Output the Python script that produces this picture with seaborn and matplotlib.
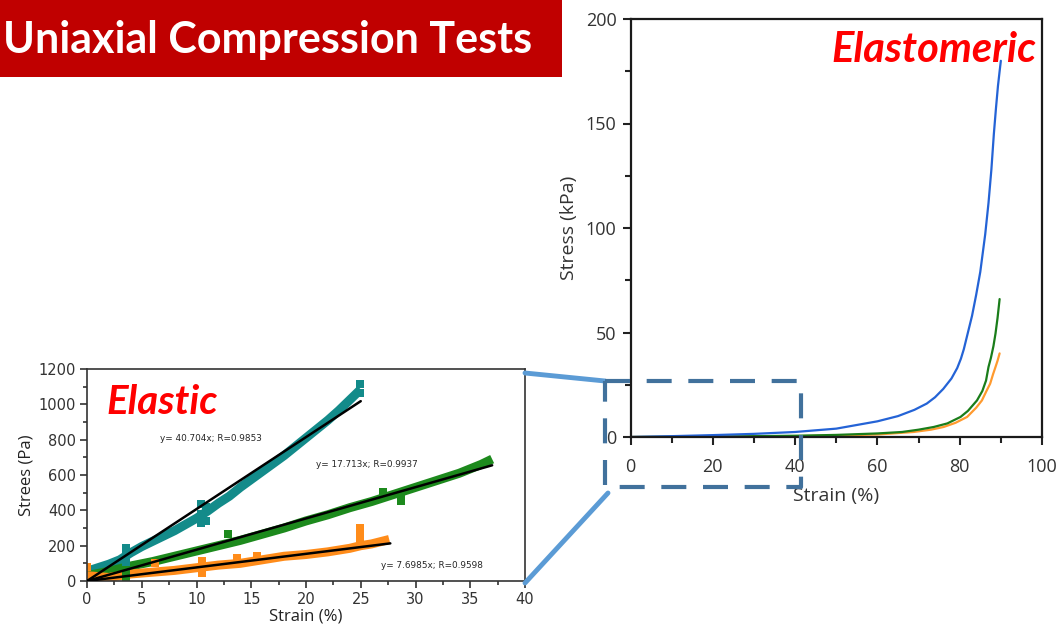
import numpy as np
import pandas as pd
import seaborn as sns
import matplotlib.pyplot as plt
from matplotlib.patches import Rectangle
from matplotlib.lines import Line2D
from matplotlib.ticker import MultipleLocator

sns.set_style("ticks")
plt.rcParams['font.family'] = ['Open Sans', 'DejaVu Sans']

# colours
banner_red = '#c00000'
teal = '#138b8a'
green = '#1d8a1d'
orange = '#ff8c1a'
blue_curve = '#2463d6'
green_curve = '#1a7d1a'
orange_curve = '#ff9a2e'
box_blue = '#41719c'
link_blue = '#5b9bd5'

# === Elastic (small strain) data, Pa ===
teal_strain = [0, 1, 2, 3, 4, 5, 6, 7, 8, 9, 10, 11, 12, 13, 14, 15, 16, 17, 18, 19, 20, 21, 22, 23, 24, 25]
teal_stress = [55, 75, 95, 120, 160, 195, 225, 255, 285, 320, 355, 395, 440, 480, 530, 575,
               620, 665, 710, 760, 810, 860, 910, 965, 1025, 1085]
teal_spike_strain = [3.6, 3.6, 3.6, 10.4, 10.4, 10.4, 10.9, 10.9, 24.9, 24.9]
teal_spike_stress = [110, 150, 185, 330, 380, 435, 340, 420, 1065, 1115]

green_strain = [0, 2, 4, 6, 8, 10, 12, 14, 16, 18, 20, 22, 24, 26, 28, 30, 32, 34, 36, 37]
green_stress = [30, 55, 85, 110, 140, 170, 200, 230, 265, 300, 340, 375, 415, 450, 490, 530, 570, 610, 660, 690]
green_spike_strain = [3.6, 3.6, 12.9, 27.0, 28.7, 28.7]
green_spike_stress = [25, 65, 265, 505, 455, 490]

orange_strain = [0, 2, 4, 6, 8, 10, 12, 14, 16, 18, 20, 22, 24, 25, 26, 27.6]
orange_stress = [30, 20, 40, 50, 60, 75, 90, 100, 120, 140, 150, 165, 185, 200, 210, 235]
orange_spike_strain = [0, 6.2, 10.5, 10.5, 13.7, 15.5, 24.9, 24.9, 24.9]
orange_spike_stress = [80, 100, 45, 115, 130, 140, 230, 270, 300]

fit_end_strain = [25, 37, 27.7]
fit_end_stress = [1018, 655, 213]
fit_labels = ['y= 40.704x; R=0.9853', 'y= 17.713x; R=0.9937', 'y= 7.6985x; R=0.9598']
fit_label_strain = [11.3, 25.6, 31.5]
fit_label_stress = [809, 657, 90]

# === Elastomeric (large strain) data, kPa ===
blue_strain = [0, 10, 20, 30, 40, 50, 60, 65, 69, 72, 74, 76, 78, 79.4, 80.3, 81, 82, 83, 84, 85,
               86.2, 87, 87.7, 88.3, 88.8, 89.3, 89.7, 90]
blue_stress = [0, 0.4, 0.9, 1.5, 2.4, 4.0, 7.5, 10, 13, 16, 19, 23, 28, 33, 37.5, 42, 50, 58, 68, 79,
               97, 112, 128, 145, 157, 168, 175, 180]
green_l_strain = [0, 20, 40, 50, 60, 66, 70, 73.7, 77, 80.2, 82, 84.2, 85.5, 86.4, 87, 87.6, 88.2, 88.7,
                  89.2, 89.7]
green_l_stress = [0, 0.2, 0.6, 1.0, 1.7, 2.4, 3.5, 4.8, 6.5, 9.6, 12.5, 17.5, 22, 27, 33.5, 38, 43.5, 49.5,
                  57, 66]
orange_l_strain = [0, 20, 40, 50, 60, 68.8, 73, 76.1, 79, 81.8, 84, 85.4, 86.5, 87.4, 88.1, 88.7, 89.2, 89.7]
orange_l_stress = [0, 0.1, 0.4, 0.7, 1.2, 2.4, 3.5, 4.8, 6.8, 9.6, 14, 17.5, 22, 25.5, 30, 33.5, 36.5, 40]

W, H = 1056, 627
fig = plt.figure(figsize=(W / 100, H / 100), dpi=100)
fig.patch.set_facecolor('white')

def frac(x0, y_top, x1, y_bot):
    return [x0 / W, 1 - y_bot / H, (x1 - x0) / W, (y_bot - y_top) / H]

# --- title banner ---
fig.patches.append(Rectangle((0, 1 - 77 / H), 562 / W, 77 / H, transform=fig.transFigure,
                             facecolor=banner_red, edgecolor='none', zorder=0))
fig.text(3 / W, 1 - 40 / H, 'Uniaxial Compression Tests', color='white', fontsize=31,
         fontweight='bold', va='center', ha='left', family=['Lato', 'DejaVu Sans'])

# --- left: elastic region ---
ax1 = fig.add_axes(frac(87, 369, 525, 581))
for xs, ys, c in [(teal_strain, teal_stress, teal), (green_strain, green_stress, green),
                  (orange_strain, orange_stress, orange)]:
    sns.lineplot(x=xs, y=ys, ax=ax1, color=c, lw=6.5, solid_capstyle='butt', zorder=2)
for xs, ys, c in [(teal_spike_strain, teal_spike_stress, teal), (green_spike_strain, green_spike_stress, green),
                  (orange_spike_strain, orange_spike_stress, orange)]:
    sns.scatterplot(x=xs, y=ys, ax=ax1, color=c, marker='s', s=30, linewidth=0, zorder=2)
for xe, ye in zip(fit_end_strain, fit_end_stress):
    sns.lineplot(x=[0, xe], y=[0, ye], ax=ax1, color='black', lw=1.8, zorder=3)
for lx, ly, t in zip(fit_label_strain, fit_label_stress, fit_labels):
    ax1.text(lx, ly, t, fontsize=6.4, family='DejaVu Sans', ha='center', va='center', zorder=4)
ax1.text(1.8, 1010, 'Elastic', color='#ff0000', fontsize=29, fontweight='bold', style='italic',
         va='center', ha='left', family=['Lato', 'DejaVu Sans'])
ax1.set_xlim(0, 40)
ax1.set_ylim(0, 1200)
ax1.xaxis.set_major_locator(MultipleLocator(5))
ax1.xaxis.set_minor_locator(MultipleLocator(2.5))
ax1.yaxis.set_major_locator(MultipleLocator(200))
ax1.yaxis.set_minor_locator(MultipleLocator(100))
ax1.tick_params(which='major', length=5, width=1.2, labelsize=10.5, colors='#333333', pad=3)
ax1.tick_params(which='minor', length=3, width=1.2, colors='#333333')
for lab in ax1.get_xticklabels() + ax1.get_yticklabels():
    lab.set_family('DejaVu Sans')
ax1.set_xlabel('Strain (%)', fontsize=12, color='#222222', labelpad=1)
ax1.set_ylabel('Strees (Pa)', fontsize=12, color='#222222', labelpad=3)
for s in ax1.spines.values():
    s.set_color('#333333')
    s.set_linewidth(1.2)

# --- right: elastomeric region ---
ax2 = fig.add_axes(frac(630.5, 19, 1042, 437))
sns.lineplot(x=orange_l_strain, y=orange_l_stress, ax=ax2, color=orange_curve, lw=1.6)
sns.lineplot(x=green_l_strain, y=green_l_stress, ax=ax2, color=green_curve, lw=1.6)
sns.lineplot(x=blue_strain, y=blue_stress, ax=ax2, color=blue_curve, lw=1.6)
ax2.set_xlim(0, 100)
ax2.set_ylim(0, 200)
ax2.xaxis.set_major_locator(MultipleLocator(20))
ax2.xaxis.set_minor_locator(MultipleLocator(10))
ax2.yaxis.set_major_locator(MultipleLocator(50))
ax2.yaxis.set_minor_locator(MultipleLocator(25))
ax2.tick_params(which='major', length=6, width=1.5, labelsize=13, colors='#222222', labelcolor='#333333', pad=4)
ax2.tick_params(axis='x', which='major', pad=9)
ax2.tick_params(which='minor', length=4, width=1.5, colors='#222222')
ax2.set_xlabel('Strain (%)', fontsize=14, color='#333333', labelpad=8)
ax2.set_ylabel('Stress (kPa)', fontsize=14, color='#333333', labelpad=6)
for s in ax2.spines.values():
    s.set_color('#1a1a1a')
    s.set_linewidth(1.6)
fig.text(1036 / W, 1 - 50 / H, 'Elastomeric', color='#ff0000', fontsize=30, fontweight='bold',
         style='italic', ha='right', va='center', family=['Lato', 'DejaVu Sans'])

# --- zoom box and connector lines (figure pixels) ---
def fx(x):
    return x / W

def fy(y):
    return 1 - y / H

fig.lines.append(Line2D([fx(525), fx(605)], [fy(373), fy(381)], transform=fig.transFigure,
                        color=link_blue, lw=3.5, zorder=5))
fig.lines.append(Line2D([fx(525), fx(608)], [fy(583), fy(493)], transform=fig.transFigure,
                        color=link_blue, lw=3.5, zorder=5))
fig.lines.append(Line2D([fx(605), fx(801), fx(801), fx(605), fx(605)],
                        [fy(381), fy(381), fy(487), fy(487), fy(381)], transform=fig.transFigure,
                        color=box_blue, lw=3.0, ls=(0, (6, 4)), zorder=6))

fig.savefig('out.png', dpi=100, facecolor='white')
